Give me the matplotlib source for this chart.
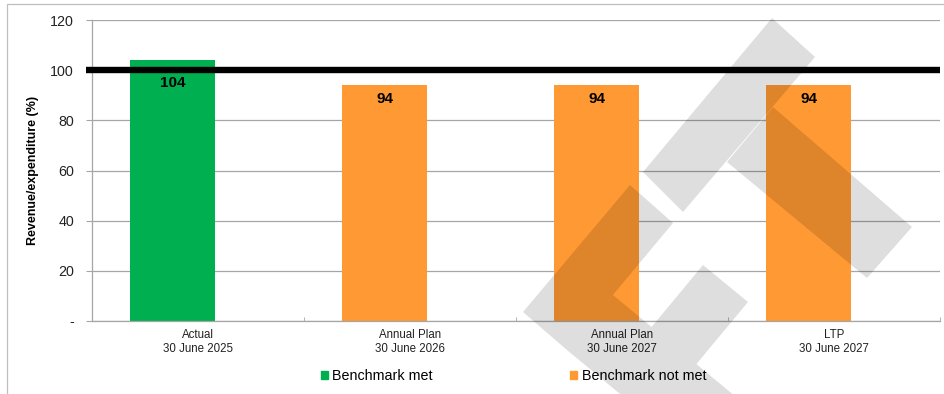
import numpy as np
import matplotlib.pyplot as plt
from matplotlib.path import Path
from matplotlib.patches import PathPatch, Rectangle
from matplotlib.lines import Line2D
from matplotlib.transforms import Affine2D

plt.rcParams['font.family'] = ['Liberation Sans', 'DejaVu Sans']

## data
categories = ['Actual\n30 June 2025', 'Annual Plan\n30 June 2026',
              'Annual Plan\n30 June 2027', 'LTP\n30 June 2027']
ratios = [104, 94, 94, 94]
benchmark = 100
series_names = ['Benchmark met', 'Benchmark not met']
yticks = [0, 20, 40, 60, 80, 100, 120]
ytick_labels = ['-', '20', '40', '60', '80', '100', '120']

GREEN = '#00b050'
ORANGE = '#ff9933'
GRID = '#a6a6a6'

W, H = 945, 394
fig = plt.figure(figsize=(W / 100, H / 100), dpi=100)
ax = fig.add_axes([92 / W, 1 - 321 / H, (940 - 92) / W, (321 - 20) / H])

x = np.arange(len(categories))
bar_shift = -0.12
met = [v >= benchmark for v in ratios]
ax.bar(x + bar_shift, ratios, width=0.4,
       color=[GREEN if m else ORANGE for m in met], zorder=2)

# benchmark line, a little past the y axis on the left
ax.plot([-0.53, len(categories) - 0.5], [benchmark, benchmark], color='black',
        lw=4.6, solid_capstyle='butt', clip_on=False, zorder=4)

# value labels inside the bar tops, pushed below the benchmark line if needed
for xi, v in zip(x, ratios):
    off = -16.5 if v > benchmark else -10
    ax.annotate(str(v), (xi + bar_shift, v), xytext=(0, off),
                textcoords='offset points', ha='center', va='center',
                fontsize=11, fontweight='bold', zorder=5)

ax.set_xlim(-0.5, len(categories) - 0.5)
ax.set_ylim(0, 120)
ax.set_yticks(yticks, ytick_labels)
ax.set_xticks(x, categories)
ax.set_xticks(np.arange(-0.5, len(categories), 0.5), minor=True)
ax.yaxis.grid(True, color=GRID, linewidth=0.9)
ax.set_axisbelow(True)

for s in ['top', 'right']:
    ax.spines[s].set_visible(False)
for s in ['left', 'bottom']:
    ax.spines[s].set_color(GRID)
    ax.spines[s].set_linewidth(0.9)

ax.tick_params(axis='x', which='both', direction='in', length=3, color=GRID,
               pad=6, labelsize=8.3, labelcolor='#222222')
ax.tick_params(axis='y', direction='out', length=4, color=GRID, pad=9,
               labelsize=10.3, labelcolor='#222222')
ax.set_ylabel('Revenue/expenditure (%)', fontsize=9, fontweight='bold')
ax.yaxis.set_label_coords(-0.0625, 0.5)

handles = [Rectangle((0, 0), 1, 1, color=GREEN), Rectangle((0, 0), 1, 1, color=ORANGE)]
fig.legend(handles, series_names, loc='center left',
           bbox_to_anchor=(321 / W, 1 - 376 / H), ncol=2, frameon=False,
           fontsize=10.3, handlelength=0.5, handleheight=0.5,
           handletextpad=0.3, columnspacing=9.6, borderpad=0, borderaxespad=0)

# chart frame
fig.add_artist(Line2D([7 / W, 7 / W, 1], [0, 1 - 4 / H, 1 - 4 / H],
                      transform=fig.transFigure, color='#bfbfbf', lw=0.9))

# watermark logo, in pixel coords from the top-left corner
px = Affine2D().scale(1 / W, -1 / H).translate(0, 1) + fig.transFigure
logo = [
    [(643, 172), (772, 18), (815, 57), (683, 212)],
    [(773, 107), (912, 227), (867, 278), (727, 162)],
    [(523, 312), (630, 185), (673, 223), (567, 350)],
    [(613, 295), (800, 450), (754, 505), (567, 350)],
    [(703, 265), (748, 302), (664, 403), (620, 365)],
]
logo_path = Path.make_compound_path(*[Path(p + [p[0]], closed=True) for p in logo])
fig.add_artist(PathPatch(logo_path, facecolor='black', edgecolor='none',
                         alpha=0.13, transform=px, zorder=10))

fig.savefig('out.png', dpi=100)
